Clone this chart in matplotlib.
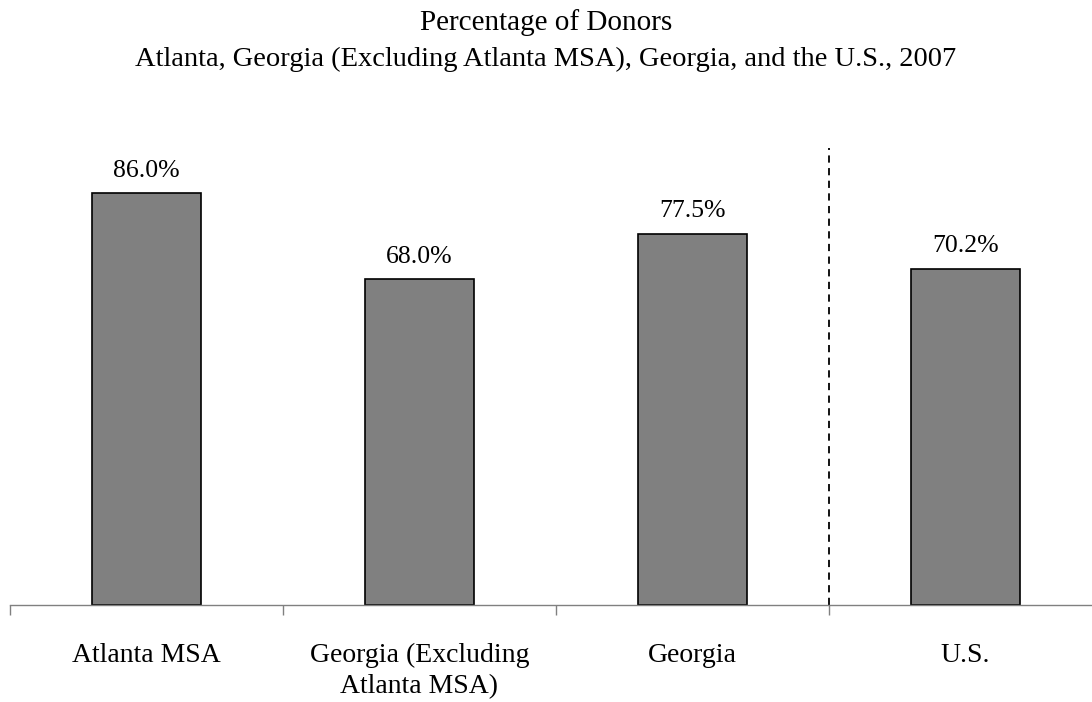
"""Percentage of donors bar chart"""

import matplotlib
matplotlib.use("Agg")
import matplotlib.pyplot as plt

categories = ["Atlanta MSA", "Georgia (Excluding\nAtlanta MSA)", "Georgia", "U.S."]
donors_pct = [86.0, 68.0, 77.5, 70.2]

plt.rcParams["font.family"] = ["Liberation Serif", "DejaVu Serif"]

fig = plt.figure(figsize=(10.92, 7.02), dpi=100)
ax = fig.add_axes([10 / 1092, 1 - 605 / 702, 1092 / 1092, 479 / 702])

x = range(len(categories))
ax.bar(x, donors_pct, width=0.4, color="#808080", edgecolor="black", linewidth=1.2)

for i, v in zip(x, donors_pct):
    ax.text(i, v + 2.4, f"{v:.1f}%", ha="center", va="bottom", fontsize=18.5)

# separator between Georgia figures and U.S.
ax.plot([2.5, 2.5], [0, 95.4], color="black", linestyle=(0, (4, 3)), linewidth=1.3)

ax.set_xlim(-0.5, 3.5)
ax.set_ylim(0, 100)
ax.set_xticks([-0.5, 0.5, 1.5, 2.5, 3.5])
ax.set_xticklabels([])
ax.set_xticks(list(x), categories, minor=True)
ax.tick_params(axis="x", which="major", length=7, color="#808080", width=1)
ax.tick_params(axis="x", which="minor", length=0, pad=27, labelsize=20)
for lbl in ax.get_xticklabels(minor=True):
    lbl.set_linespacing(1.35)
ax.set_yticks([])
for s in ["top", "right", "left"]:
    ax.spines[s].set_visible(False)
ax.spines["bottom"].set_color("#808080")
ax.spines["bottom"].set_linewidth(1)

fig.text(0.5, 1 - 23 / 702, "Percentage of Donors", ha="center", va="center", fontsize=21)
fig.text(0.5, 1 - 59 / 702,
         "Atlanta, Georgia (Excluding Atlanta MSA), Georgia, and the U.S., 2007",
         ha="center", va="center", fontsize=20.5)

fig.savefig("out.png", dpi=100)
